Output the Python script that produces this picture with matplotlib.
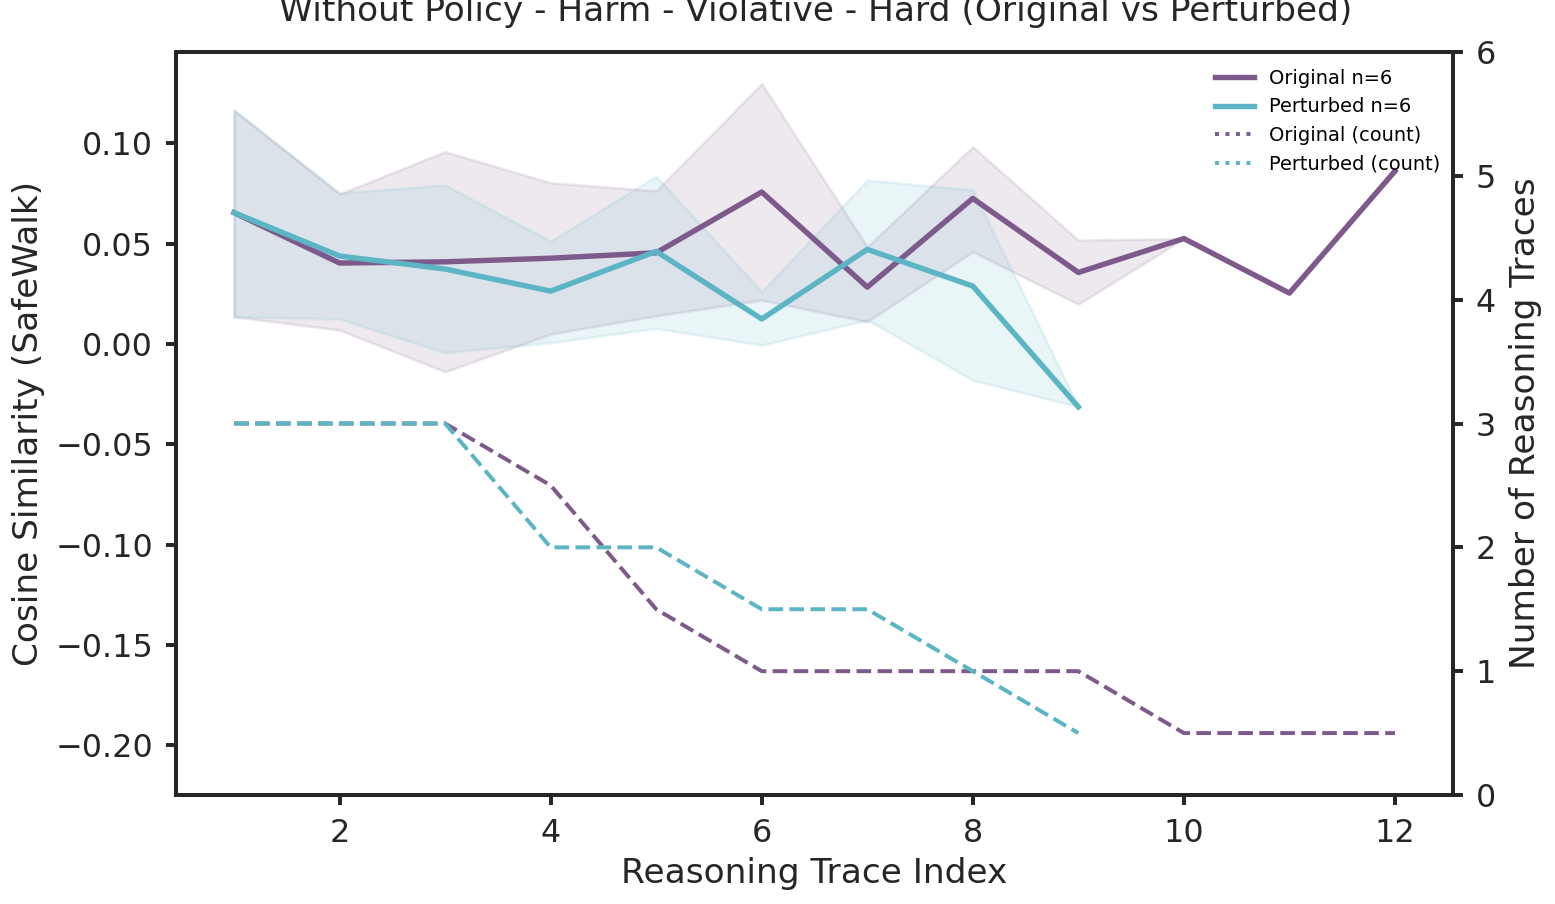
import matplotlib.pyplot as plt
import numpy as np
from matplotlib.lines import Line2D

# trace index
steps = np.arange(1, 13)

# mean cosine similarity and band limits (NaN = no data / no band)
orig_mean = [0.0655, 0.0404, 0.0410, 0.0428, 0.0455, 0.0758, 0.0284, 0.0726, 0.0357, 0.0526, 0.0254, 0.0862]
orig_upper = [0.1166, 0.0748, 0.0959, 0.0804, 0.0764, 0.1298, 0.0485, 0.0984, 0.0518, 0.0526, np.nan, np.nan]
orig_lower = [0.0136, 0.0070, -0.0138, 0.0050, 0.0141, 0.0219, 0.0111, 0.0460, 0.0199, 0.0526, np.nan, np.nan]

pert_mean = [0.0655, 0.0439, 0.0374, 0.0264, 0.0462, 0.0125, 0.0472, 0.0289, -0.0313, np.nan, np.nan, np.nan]
pert_upper = [0.1166, 0.0754, 0.0793, 0.0513, 0.0837, 0.0261, 0.0818, 0.0768, -0.0313, np.nan, np.nan, np.nan]
pert_lower = [0.0136, 0.0125, -0.0043, 0.0007, 0.0078, -0.0005, 0.0120, -0.0180, -0.0313, np.nan, np.nan, np.nan]

# number of traces reaching each index
orig_count = [3, 3, 3, 2.5, 1.5, 1, 1, 1, 1, 0.5, 0.5, 0.5]
pert_count = [3, 3, 3, 2, 2, 1.5, 1.5, 1, 0.5, np.nan, np.nan, np.nan]

c_orig = '#7d5a8b'
c_pert = '#5cb5c5'
dark = '#262626'

plt.rcParams['font.family'] = ['DejaVu Sans']
plt.rcParams['axes.unicode_minus'] = True

fig = plt.figure(figsize=(1555 / 150, 904 / 150), dpi=150)
ax = fig.add_axes([176 / 1555, 1 - 795 / 904, (1453 - 176) / 1555, (795 - 52) / 904])
ax2 = ax.twinx()

ax.fill_between(steps, orig_lower, orig_upper, color=c_orig, alpha=0.13, linewidth=1.3)
ax.fill_between(steps, pert_lower, pert_upper, color=c_pert, alpha=0.13, linewidth=1.3)
ax.plot(steps, orig_mean, color=c_orig, lw=2.6)
ax.plot(steps, pert_mean, color=c_pert, lw=2.6)

ax2.plot(steps, orig_count, color=c_orig, lw=1.9, ls='--')
ax2.plot(steps, pert_count, color=c_pert, lw=1.9, ls='--')

ax.set_xlim(0.45, 12.55)
ax.set_ylim(-0.2248, 0.1456)
ax2.set_ylim(0, 6)
ax.set_xticks([2, 4, 6, 8, 10, 12])
ax.set_yticks([-0.20, -0.15, -0.10, -0.05, 0.00, 0.05, 0.10])
ax.set_yticklabels(['\u22120.20', '\u22120.15', '\u22120.10', '\u22120.05', '0.00', '0.05', '0.10'])
ax2.set_yticks(range(7))

for a in (ax, ax2):
    a.tick_params(labelsize=15.3, length=5, width=1.9, color=dark, labelcolor=dark, pad=6)
    for s in a.spines.values():
        s.set_linewidth(1.9)
        s.set_color(dark)

ax.set_xlabel('Reasoning Trace Index', fontsize=16.5, color=dark, labelpad=4)
ax.set_ylabel('Cosine Similarity (SafeWalk)', fontsize=16.5, color=dark, labelpad=5)
ax2.set_ylabel('Number of Reasoning Traces', fontsize=16.5, color=dark, labelpad=6)

fig.text(816 / 1555, 1 - 21 / 904, 'Without Policy - Harm - Violative - Hard (Original vs Perturbed)',
         ha='center', va='baseline', fontsize=16.5, color=dark)

handles = [
    Line2D([], [], color=c_orig, lw=2.6),
    Line2D([], [], color=c_pert, lw=2.6),
    Line2D([], [], color=c_orig, lw=1.9, ls=':'),
    Line2D([], [], color=c_pert, lw=1.9, ls=':'),
]
labels = ['Original n=6', 'Perturbed n=6', 'Original (count)', 'Perturbed (count)']
ax2.legend(handles, labels, loc='upper right', fontsize=9.3, frameon=False,
           bbox_to_anchor=(1.004, 1.001), labelspacing=0.5)

fig.savefig('out.png', dpi=150)
